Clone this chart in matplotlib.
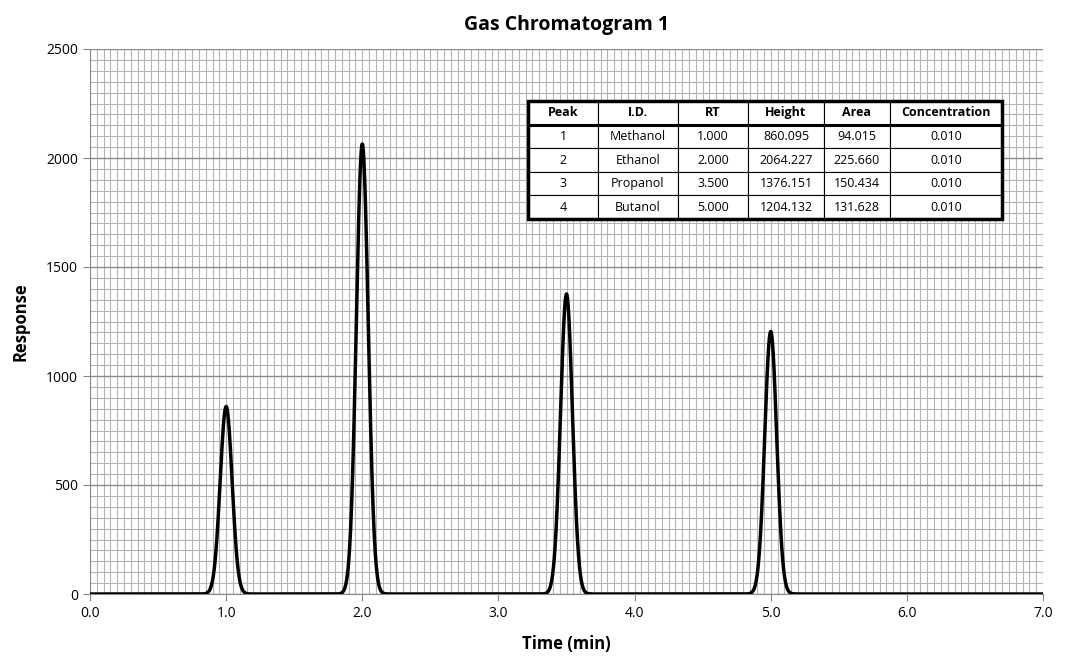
import numpy as np
import matplotlib.pyplot as plt
from matplotlib.ticker import MultipleLocator

plt.rcParams['font.family'] = ['Open Sans', 'DejaVu Sans']

peaks = ["1", "2", "3", "4"]
names = ["Methanol", "Ethanol", "Propanol", "Butanol"]
rt = [1.000, 2.000, 3.500, 5.000]
height = [860.095, 2064.227, 1376.151, 1204.132]
area = [94.015, 225.660, 150.434, 131.628]
conc = [0.010, 0.010, 0.010, 0.010]

# build the trace from the peak table (gaussian peaks)
t = np.linspace(0, 7, 3501)
signal = np.zeros_like(t)
for r, h, a in zip(rt, height, area):
    sigma = a / (h * np.sqrt(2 * np.pi))
    signal += h * np.exp(-0.5 * ((t - r) / sigma) ** 2)

fig = plt.figure(figsize=(10.82, 6.65), dpi=100)
ax = fig.add_axes([90 / 1082, 71 / 665, 953 / 1082, 545 / 665])
ax.plot(t, signal, color="black", lw=2.5, zorder=3)

ax.set_xlim(0, 7)
ax.set_ylim(0, 2500)
ax.xaxis.set_major_locator(MultipleLocator(1))
ax.xaxis.set_minor_locator(MultipleLocator(0.05))
ax.yaxis.set_major_locator(MultipleLocator(500))
ax.yaxis.set_minor_locator(MultipleLocator(50))
ax.xaxis.set_major_formatter(plt.FuncFormatter(lambda v, p: f"{v:.1f}"))
ax.grid(which="minor", color="#b4b4b4", lw=0.8)
ax.xaxis.grid(which="major", color="#b4b4b4", lw=0.8)
ax.yaxis.grid(which="major", color="#8c8c8c", lw=1.0)
ax.set_axisbelow(True)
for s in ["top", "right"]:
    ax.spines[s].set_visible(False)
for s in ["left", "bottom"]:
    ax.spines[s].set_color("#888888")
ax.tick_params(which="minor", length=0)
ax.tick_params(which="major", labelsize=10, color="#888888", length=5)

ax.set_title("Gas Chromatogram 1", fontsize=14, fontweight="bold", pad=14)
ax.set_xlabel("Time (min)", fontsize=12, fontweight="bold", labelpad=10)
ax.set_ylabel("Response", fontsize=12, fontweight="bold", labelpad=12)

cells = [[p, n, f"{r:.3f}", f"{h:.3f}", f"{a:.3f}", f"{c:.3f}"]
         for p, n, r, h, a, c in zip(peaks, names, rt, height, area, conc)]
cols = ["Peak", "I.D.", "RT", "Height", "Area", "Concentration"]
bx, by, bw, bh = (528 - 90) / 953, (594 - 219) / 545, 474 / 953, 118 / 545
tab = ax.table(cellText=cells, colLabels=cols, cellLoc="center",
               bbox=[bx, by, bw, bh],
               colWidths=[70, 80, 70, 76, 66, 112])
tab.auto_set_font_size(False)
tab.set_fontsize(9)
for (r, c), cell in tab.get_celld().items():
    cell.set_facecolor("white")
    cell.set_linewidth(0.8)
    if r == 0:
        cell.set_text_props(fontweight="bold")
tab.set_zorder(5)
# thick outer border and header line
ax.add_patch(plt.Rectangle((bx, by), bw, bh, transform=ax.transAxes,
                           fill=False, lw=2.5, color="black", zorder=6))
ax.plot([bx, bx + bw], [by + bh * 4 / 5] * 2, transform=ax.transAxes,
        color="black", lw=2.2, zorder=6)

fig.savefig("out.png", dpi=100)
